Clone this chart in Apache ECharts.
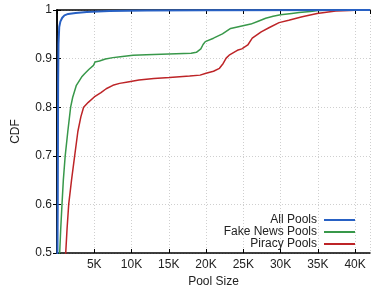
<!DOCTYPE html>
<html>
<head>
<meta charset="utf-8">
<script src="https://cdn.jsdelivr.net/npm/echarts@6/dist/echarts.min.js"></script>
<style>
  html, body { margin: 0; padding: 0; background: #fff; }
  #chart { width: 371px; height: 290px; }
</style>
</head>
<body>
<div id="chart"></div>
<script>
// pool size vs cumulative fraction
const allPoolsX = [0, 60, 100, 150, 200, 300, 450, 700, 1000, 1500, 2500, 4000, 7000, 12000, 20000, 42000]
const allPoolsY = [0.3, 0.5, 0.6, 0.85, 0.93, 0.965, 0.976, 0.984, 0.989, 0.992, 0.994, 0.996, 0.998, 0.999, 0.9995, 1]

const fakeNewsX = [200, 360, 500, 670, 850, 1100, 1450, 1830, 2100, 2600, 3300, 3700, 4300, 4900, 5000, 5100, 5700, 6500, 7500, 8500, 10200, 12000, 14000, 16000, 18000, 18700, 19300, 19600, 19900, 21000, 22200, 23300, 24500, 26000, 27000, 28000, 29000, 30000, 31500, 32500, 34000, 35000, 37000]
const fakeNewsY = [0.4, 0.5, 0.55, 0.6, 0.65, 0.7, 0.75, 0.8, 0.82, 0.845, 0.862, 0.869, 0.878, 0.886, 0.888, 0.893, 0.895, 0.899, 0.902, 0.904, 0.907, 0.908, 0.909, 0.91, 0.911, 0.913, 0.92, 0.929, 0.935, 0.942, 0.951, 0.962, 0.966, 0.971, 0.977, 0.983, 0.987, 0.99, 0.993, 0.995, 0.997, 0.999, 1]

const piracyX = [700, 1170, 1350, 1570, 1950, 2370, 2800, 3200, 3570, 4200, 5000, 5900, 6600, 7500, 8400, 9500, 11000, 13000, 15100, 17800, 19200, 20000, 21000, 21800, 22300, 22700, 23100, 24200, 24800, 25600, 26200, 27400, 28500, 29800, 31100, 32900, 34900, 37400, 40000, 41000]
const piracyY = [0.4, 0.5, 0.55, 0.6, 0.65, 0.7, 0.75, 0.78, 0.8, 0.81, 0.821, 0.83, 0.838, 0.845, 0.849, 0.852, 0.856, 0.859, 0.861, 0.864, 0.866, 0.87, 0.874, 0.88, 0.89, 0.901, 0.907, 0.917, 0.92, 0.928, 0.942, 0.955, 0.964, 0.974, 0.979, 0.986, 0.993, 0.998, 0.9995, 1]

const seriesNames = ['All Pools', 'Fake News Pools', 'Piracy Pools']

const palette = {
  all: '#2861c4',
  fake: '#38984a',
  piracy: '#bd2427',
  grid: '#cfcfcf',
  text: '#222222',
}
const font = '"Liberation Sans", Arial, sans-serif'

function pairs(xs, ys) {
  return xs.map((x, i) => [x, ys[i]])
}

const chart = echarts.init(document.getElementById('chart'), null, { renderer: 'canvas' })

const tickCommon = { show: true, inside: true, length: 4, lineStyle: { color: '#000', width: 1 } }
const splitCommon = { show: true, lineStyle: { color: palette.grid, type: [1, 2], width: 1 } }
const kLabel = (v) => (v > 0 && v % 5000 === 0 ? `${v / 1000}K` : '')

chart.setOption({
  animation: false,
  backgroundColor: '#fff',
  grid: { left: 57, right: 1, top: 10, bottom: 37, outerBoundsMode: 'none', containLabel: false },
  legend: {
    orient: 'vertical',
    right: 10,
    top: 209,
    align: 'right',
    itemWidth: 31,
    itemHeight: 2,
    itemGap: 0,
    data: seriesNames,
    textStyle: { color: palette.text, fontFamily: font, fontSize: 12, lineHeight: 12, padding: [0, 2, 0, 0] },
  },
  xAxis: [
    {
      type: 'value',
      min: 0,
      max: 42000,
      interval: 5000,
      name: 'Pool Size',
      nameLocation: 'middle',
      nameGap: 23,
      nameTextStyle: { color: palette.text, fontFamily: font, fontSize: 12 },
      axisLine: { show: true, lineStyle: { color: '#000', width: 1.5 } },
      axisTick: tickCommon,
      axisLabel: { color: palette.text, fontFamily: font, fontSize: 12, margin: 6, formatter: kLabel, showMaxLabel: false },
      splitLine: splitCommon,
    },
    {
      type: 'value',
      position: 'top',
      min: 0,
      max: 42000,
      interval: 5000,
      axisLine: { show: true, lineStyle: { color: '#000', width: 1.5 } },
      axisTick: tickCommon,
      axisLabel: { show: false },
      splitLine: { show: false },
    },
  ],
  yAxis: [
    {
      type: 'value',
      min: 0.5,
      max: 1,
      interval: 0.1,
      name: 'CDF',
      nameLocation: 'middle',
      nameGap: 35,
      nameTextStyle: { color: palette.text, fontFamily: font, fontSize: 12 },
      axisLine: { show: true, lineStyle: { color: '#000', width: 1.5 } },
      axisTick: tickCommon,
      axisLabel: {
        color: palette.text,
        fontFamily: font,
        fontSize: 12,
        margin: 5,
        formatter: (v) => (Math.abs(v - 1) < 1e-9 ? '1' : v.toFixed(1)),
      },
      splitLine: splitCommon,
    },
    {
      type: 'value',
      position: 'right',
      min: 0.5,
      max: 1,
      interval: 0.1,
      axisLine: { show: true, lineStyle: { color: '#000', width: 1.5 } },
      axisTick: tickCommon,
      axisLabel: { show: false },
      splitLine: { show: false },
    },
  ],
  series: [
    {
      name: seriesNames[0],
      type: 'line',
      data: pairs(allPoolsX, allPoolsY),
      symbol: 'none',
      lineStyle: { color: palette.all, width: 2 },
      itemStyle: { color: palette.all },
      z: 4,
    },
    {
      name: seriesNames[1],
      type: 'line',
      data: pairs(fakeNewsX, fakeNewsY),
      symbol: 'none',
      lineStyle: { color: palette.fake, width: 1.5 },
      itemStyle: { color: palette.fake },
      z: 3,
    },
    {
      name: seriesNames[2],
      type: 'line',
      data: pairs(piracyX, piracyY),
      symbol: 'none',
      lineStyle: { color: palette.piracy, width: 1.5 },
      itemStyle: { color: palette.piracy },
      z: 3,
    },
  ],
})
</script>
</body>
</html>
